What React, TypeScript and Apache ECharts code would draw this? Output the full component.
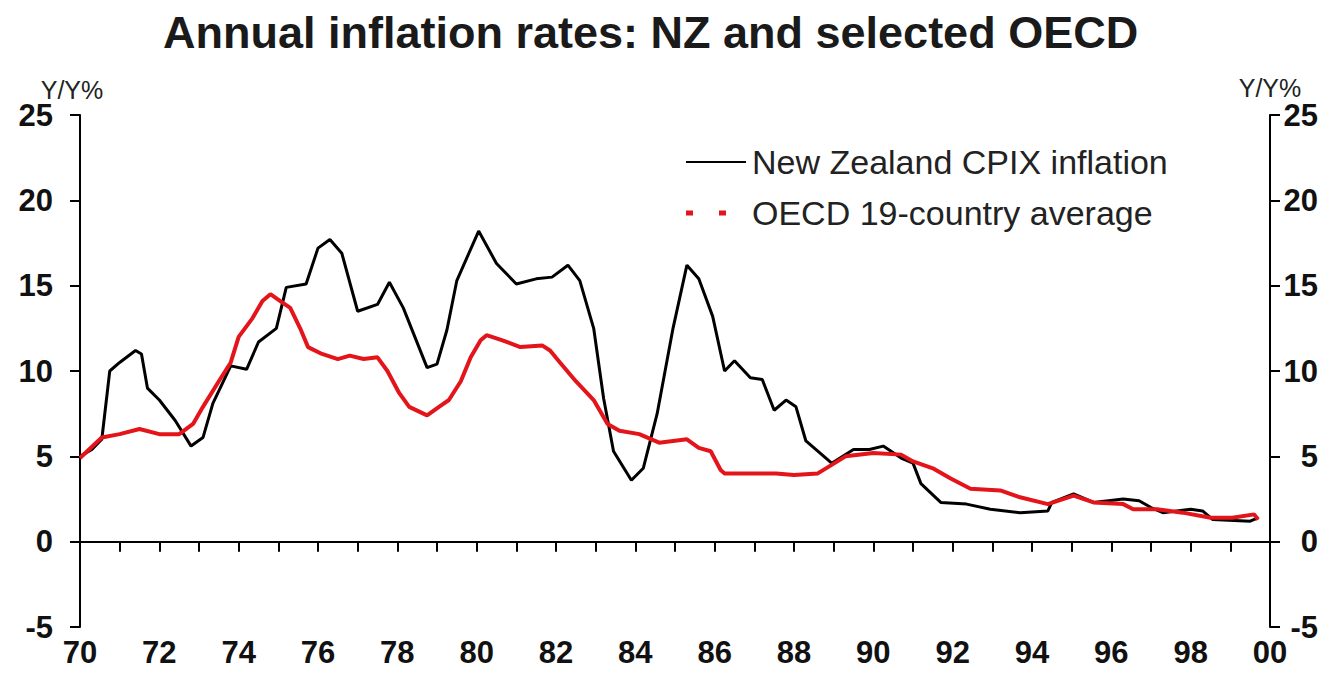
import React, { useEffect, useRef } from "react";
import * as echarts from "echarts";

const titleText = "Annual inflation rates: NZ and selected OECD";
const unitText = "Y/Y%";
const seriesNames = ["New Zealand CPIX inflation", "OECD 19-country average"];
const xTickLabels = ["70", "72", "74", "76", "78", "80", "82", "84", "86", "88", "90", "92", "94", "96", "98", "00"];

const nzYears = [
  1970.0, 1970.3, 1970.55, 1970.75, 1971.0, 1971.4, 1971.55, 1971.7, 1972.0, 1972.4, 1972.8,
  1973.1, 1973.35, 1973.8, 1974.2, 1974.5, 1974.95, 1975.2, 1975.7, 1976.0, 1976.3, 1976.6,
  1977.0, 1977.5, 1977.8, 1978.15, 1978.75, 1979.0, 1979.25, 1979.5, 1980.05, 1980.5, 1981.0,
  1981.5, 1981.9, 1982.3, 1982.6, 1982.95, 1983.2, 1983.45, 1983.9, 1984.2, 1984.55, 1984.95,
  1985.3, 1985.6, 1985.95, 1986.25, 1986.5, 1986.9, 1987.2, 1987.5, 1987.8, 1988.05, 1988.3,
  1988.95, 1989.5, 1989.9, 1990.25, 1990.7, 1991.0, 1991.2, 1991.7, 1992.35, 1992.95, 1993.7,
  1994.4, 1994.5, 1995.05, 1995.55, 1996.3, 1996.7, 1997.0, 1997.3, 1998.0, 1998.3, 1998.55,
  1999.5, 1999.7,
];
const nzValues = [
  5.0, 5.4, 6.0, 10.0, 10.5, 11.2, 11.0, 9.0, 8.3, 7.1, 5.6,
  6.1, 8.1, 10.3, 10.1, 11.7, 12.5, 14.9, 15.1, 17.2, 17.7, 16.9,
  13.5, 13.9, 15.2, 13.7, 10.2, 10.4, 12.4, 15.3, 18.2, 16.3, 15.1,
  15.4, 15.5, 16.2, 15.3, 12.5, 8.4, 5.3, 3.6, 4.3, 7.5, 12.5,
  16.2, 15.4, 13.2, 10.0, 10.6, 9.6, 9.5, 7.7, 8.3, 7.9, 5.9,
  4.6, 5.4, 5.4, 5.6, 4.9, 4.6, 3.4, 2.3, 2.2, 1.9, 1.7,
  1.8, 2.3, 2.8, 2.3, 2.5, 2.4, 2.0, 1.7, 1.9, 1.8, 1.3,
  1.2, 1.4,
];

const oecdYears = [
  1970.0, 1970.55, 1971.0, 1971.5, 1972.0, 1972.5, 1972.85, 1973.1, 1973.5, 1973.8, 1974.0,
  1974.35, 1974.6, 1974.8, 1975.05, 1975.3, 1975.55, 1975.75, 1976.1, 1976.5, 1976.8, 1977.15,
  1977.5, 1977.75, 1978.05, 1978.3, 1978.75, 1979.05, 1979.3, 1979.6, 1979.85, 1980.1, 1980.25,
  1980.65, 1981.1, 1981.65, 1981.85, 1982.1, 1982.5, 1982.95, 1983.3, 1983.6, 1984.1, 1984.6,
  1985.3, 1985.6, 1985.9, 1986.15, 1986.25, 1986.9, 1987.55, 1988.0, 1988.6, 1988.95, 1989.3,
  1990.0, 1990.7, 1991.0, 1991.5, 1991.95, 1992.45, 1993.2, 1993.7, 1994.4, 1995.05, 1995.55,
  1996.3, 1996.55, 1997.15, 1997.8, 1998.5, 1999.05, 1999.6, 1999.7,
];
const oecdValues = [
  4.9, 6.1, 6.3, 6.6, 6.3, 6.3, 6.9, 7.9, 9.4, 10.5, 12.0,
  13.1, 14.1, 14.5, 14.1, 13.7, 12.5, 11.4, 11.0, 10.7, 10.9, 10.7,
  10.8, 10.0, 8.7, 7.9, 7.4, 7.9, 8.3, 9.4, 10.8, 11.8, 12.1,
  11.8, 11.4, 11.5, 11.2, 10.5, 9.4, 8.3, 6.9, 6.5, 6.3, 5.8,
  6.0, 5.5, 5.3, 4.2, 4.0, 4.0, 4.0, 3.9, 4.0, 4.5, 5.0,
  5.2, 5.1, 4.7, 4.3, 3.7, 3.1, 3.0, 2.6, 2.2, 2.7, 2.3,
  2.2, 1.9, 1.9, 1.7, 1.4, 1.4, 1.6, 1.3,
];

const FONT = '"Liberation Sans", Arial, sans-serif';
const RED = "#e3151b";

export default function App() {
  const ref = useRef<HTMLDivElement>(null);

  useEffect(() => {
    if (!ref.current) return;
    const chart = echarts.init(ref.current, null, { renderer: "svg" });

    const yAxisBase = {
      type: "value",
      min: -5,
      max: 25,
      interval: 5,
      axisLine: { show: true, lineStyle: { color: "#000", width: 2 } },
      axisTick: { show: true, inside: false, length: 10, lineStyle: { color: "#000", width: 2 } },
      splitLine: { show: false },
    };

    chart.setOption({
      animation: false,
      backgroundColor: "#ffffff",
      title: {
        text: titleText,
        left: 163,
        top: 5,
        padding: [5, 0, 5, 0],
        textStyle: { fontFamily: FONT, fontSize: 45, fontWeight: "bold", color: "#1a1a1a" },
      },
      grid: { left: 80, right: 68, top: 115, bottom: 62, containLabel: false },
      xAxis: {
        type: "value",
        min: 1970,
        max: 2000,
        interval: 1,
        axisLine: { show: true, lineStyle: { color: "#000", width: 2 } },
        axisTick: { show: true, inside: false, length: 10, lineStyle: { color: "#000", width: 2 } },
        splitLine: { show: false },
        axisLabel: {
          margin: 10,
          fontFamily: FONT,
          fontSize: 31,
          fontWeight: "bold",
          color: "#111",
          formatter: (v: number) => {
            const yr = Math.round(v) - 1970;
            return yr % 2 === 0 ? xTickLabels[yr / 2] ?? "" : "";
          },
        },
      },
      yAxis: [
        {
          ...yAxisBase,
          position: "left",
          axisLabel: { margin: 27, fontFamily: FONT, fontSize: 31, fontWeight: "bold", color: "#111" },
        },
        {
          ...yAxisBase,
          position: "right",
          axisLabel: { margin: 48, align: "right", fontFamily: FONT, fontSize: 31, fontWeight: "bold", color: "#111" },
        },
      ],
      graphic: [
        {
          type: "text",
          x: 72,
          y: 90,
          style: { text: unitText, align: "center", verticalAlign: "middle", fontFamily: FONT, fontSize: 25, fill: "#222" },
        },
        {
          type: "text",
          x: 1270,
          y: 88,
          style: { text: unitText, align: "center", verticalAlign: "middle", fontFamily: FONT, fontSize: 25, fill: "#222" },
        },
        {
          type: "line",
          shape: { x1: 686, y1: 162, x2: 746, y2: 162 },
          style: { stroke: "#000", lineWidth: 2 },
        },
        {
          type: "text",
          x: 752,
          y: 162,
          style: { text: seriesNames[0], align: "left", verticalAlign: "middle", fontFamily: FONT, fontSize: 34, fill: "#222" },
        },
        {
          type: "line",
          shape: { x1: 686, y1: 213, x2: 746, y2: 213 },
          style: { stroke: RED, lineWidth: 5, lineDash: [7, 26] },
        },
        {
          type: "text",
          x: 752,
          y: 213,
          style: { text: seriesNames[1], align: "left", verticalAlign: "middle", fontFamily: FONT, fontSize: 34, fill: "#222" },
        },
      ],
      series: [
        {
          name: seriesNames[0],
          type: "line",
          yAxisIndex: 0,
          symbol: "none",
          data: nzYears.map((y, i) => [y, nzValues[i]]),
          lineStyle: { color: "#000", width: 3 },
          itemStyle: { color: "#000" },
          z: 2,
        },
        {
          name: seriesNames[1],
          type: "line",
          yAxisIndex: 0,
          symbol: "none",
          data: oecdYears.map((y, i) => [y, oecdValues[i]]),
          lineStyle: { color: RED, width: 4 },
          itemStyle: { color: RED },
          z: 3,
        },
      ],
    });

    return () => chart.dispose();
  }, []);

  return (
    <div
      ref={ref}
      style={{ position: "fixed", left: 0, top: 0, width: 1338, height: 689, background: "#fff" }}
    />
  );
}
